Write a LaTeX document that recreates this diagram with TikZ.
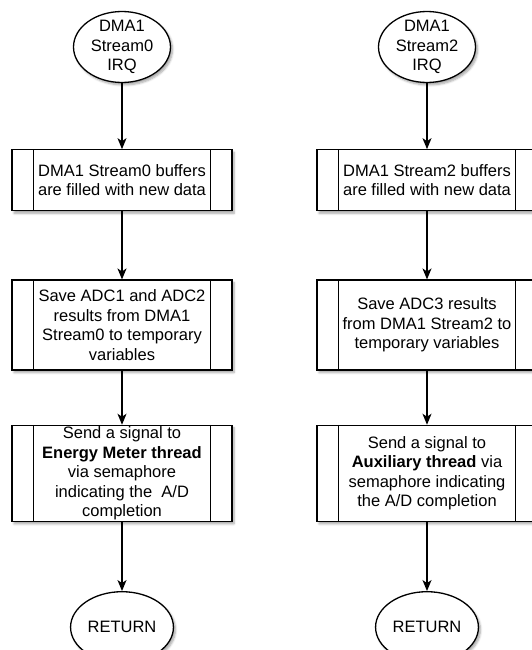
\documentclass[tikz,border=0pt]{standalone}
\usepackage{fontspec}
\setmainfont{Liberation Sans}
\usetikzlibrary{shapes,shapes.geometric,arrows.meta,positioning,shadows.blur}
\tikzset{term/.style={draw,ellipse,fill=white,minimum width=97pt,minimum height=71pt,inner xsep=2pt,inner ysep=-3pt,align=center}}
\tikzset{proc/.style={draw,rectangle,fill=white,minimum width=220pt,inner sep=1pt,align=center}}
\tikzset{shd/.style={blur shadow={shadow xshift=2pt,shadow yshift=-2.5pt,shadow opacity=35,shadow blur steps=6}}}

\begin{document}
\begin{tikzpicture}[>={Stealth[length=11pt,width=9pt,inset=3pt]}, line width=1.3pt, font=\fontsize{16.5}{19.5}\selectfont]
\useasboundingbox (0,0) rectangle (532pt,-650pt);

% Stream0 column
\node[term, shd] (irqA) at (122pt,-47pt) {DMA1\\Stream0\\IRQ};
\node[proc, shd, minimum height=61pt][below=66pt of irqA] (A1) {DMA1 Stream0 buffers\\are filled with new data};
\node[proc, shd, minimum height=90pt][below=68pt of A1] (A2) {Save ADC1 and ADC2\\results from DMA1\\Stream0 to temporary\\variables};
\node[proc, shd, minimum height=96pt][below=54pt of A2] (A3) {Send a signal to\\\textbf{Energy Meter thread}\\via semaphore\\indicating the~ A/D\\completion};
\node[term, shd][below=69pt of A3] (retA) {RETURN};

% Stream2 column
\node[term, shd] (irqB) at (427pt,-47pt) {DMA1\\Stream2\\IRQ};
\node[proc, shd, minimum height=61pt][below=66pt of irqB] (B1) {DMA1 Stream2 buffers\\are filled with new data};
\node[proc, shd, minimum height=90pt][below=68pt of B1] (B2) {Save ADC3 results\\from DMA1 Stream2 to\\temporary variables};
\node[proc, shd, minimum height=96pt][below=54pt of B2] (B3) {Send a signal to\\\textbf{Auxiliary thread} via\\semaphore indicating\\the A/D completion};
\node[term, shd][below=69pt of B3] (retB) {RETURN};

% side bars of the process boxes
\foreach \n in {A1,A2,A3,B1,B2,B3}
  \draw ([xshift=22pt]\n.north west) -- ([xshift=22pt]\n.south west)
        ([xshift=-22pt]\n.north east) -- ([xshift=-22pt]\n.south east);

\path[->](irqA) edge (A1)
	(A1) edge (A2)
	(A2) edge (A3)
	(A3) edge (retA)
	(irqB) edge (B1)
	(B1) edge (B2)
	(B2) edge (B3)
	(B3) edge (retB)
;
\end{tikzpicture}
\end{document}
